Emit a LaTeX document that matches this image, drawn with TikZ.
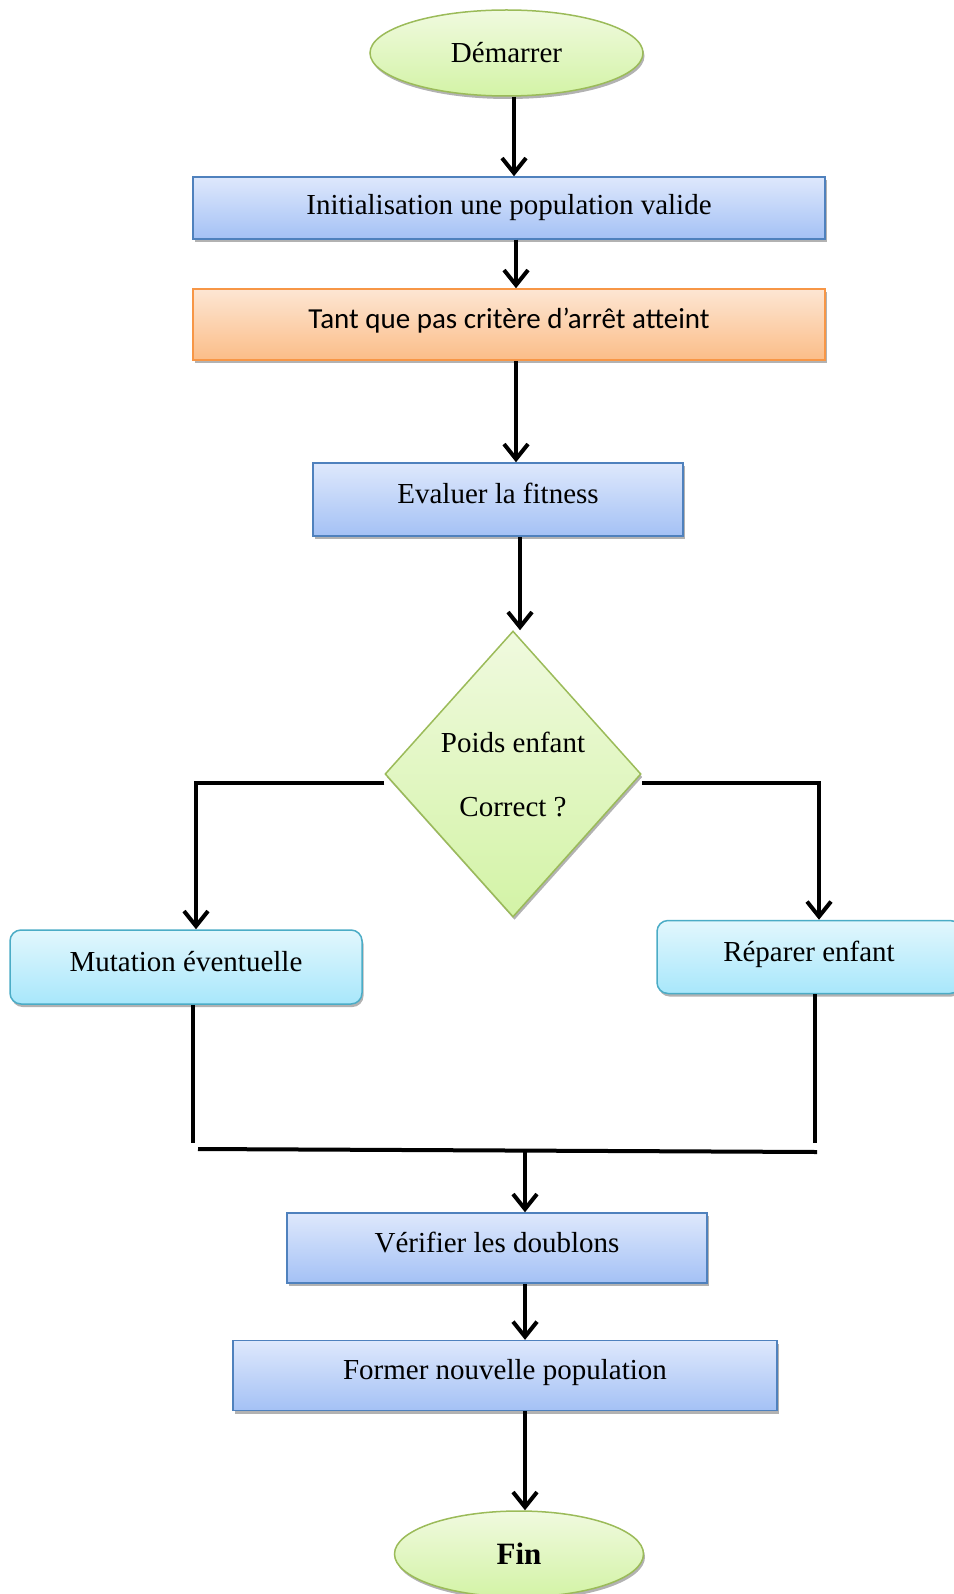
\documentclass[tikz,border=0pt]{standalone}
\usepackage{fontspec}
\setmainfont{Liberation Serif}
\newfontfamily\calfont{Carlito}
\usetikzlibrary{shapes.geometric,shadows,arrows.meta}
\definecolor{bluetop}{HTML}{DEE8FC}
\definecolor{bluebot}{HTML}{A4C1F5}
\definecolor{blueedge}{HTML}{4F81BD}
\definecolor{orgtop}{HTML}{FDE6D3}
\definecolor{orgbot}{HTML}{FBBD88}
\definecolor{orgedge}{HTML}{F79646}
\definecolor{grntop}{HTML}{F0FADF}
\definecolor{grnbot}{HTML}{D3F3A6}
\definecolor{grnedge}{HTML}{9BBB59}
\definecolor{cyntop}{HTML}{E2F7FD}
\definecolor{cynbot}{HTML}{A8E7FB}
\definecolor{cynedge}{HTML}{4BACC6}
\begin{document}
\begin{tikzpicture}[x=1pt,y=-1pt,
  mysh/.style={drop shadow={shadow xshift=1.5pt,shadow yshift=-3pt,opacity=0.3,fill=black}},
  txt/.style={font=\fontsize{29}{34}\selectfont, text height=13pt, text depth=5pt, inner sep=0pt},
  bluebox/.style={txt, mysh, rectangle, draw=blueedge, line width=1.5pt, top color=bluetop, bottom color=bluebot},
  orangebox/.style={txt, mysh, rectangle, draw=orgedge, line width=1.5pt, top color=orgtop, bottom color=orgbot},
  cyanbox/.style={txt, mysh, rectangle, rounded corners=11pt, draw=cynedge, line width=1.5pt, top color=cyntop, bottom color=cynbot},
  startend/.style={mysh, ellipse, inner sep=0pt, draw=grnedge, line width=1.5pt, top color=grntop, bottom color=grnbot, font=\fontsize{29}{34}\selectfont, minimum height=86pt},
  decision/.style={mysh, diamond, inner sep=0pt, draw=grnedge, line width=1.5pt, top color=grntop, bottom color=grnbot, font=\fontsize{29}{34}\selectfont, align=center, minimum width=256pt, minimum height=286pt},
  arr/.style={line width=4pt, -{Straight Barb[length=15pt,width=24pt]}},
  lin/.style={line width=4pt}
]
\useasboundingbox (0,0) rectangle (953,1594);

\node[startend, minimum width=273pt] (start) at (506.5,53) {Démarrer};
\node[bluebox, minimum width=632pt, minimum height=62pt, text height=16pt, text depth=2pt] (init) at (509,208) {Initialisation une population valide};
\node[orangebox, minimum width=632pt, minimum height=71pt, font=\calfont\fontsize{29}{34}\selectfont] (tant) at (509,324.5) {Tant que pas critère d’arrêt atteint};
\node[bluebox, minimum width=370pt, minimum height=73pt] (eval) at (498,499.5) {Evaluer la fitness};
\node[decision] (dec) at (513,774) {Poids enfant\\[30pt]Correct ?};
\node[cyanbox, minimum width=352pt, minimum height=74pt] (mut) at (186,967) {Mutation éventuelle};
\node[cyanbox, minimum width=304pt, minimum height=73pt] (rep) at (809,957) {Réparer enfant};
\node[bluebox, minimum width=420pt, minimum height=70pt] (ver) at (497,1248) {Vérifier les doublons};
\node[bluebox, minimum width=544pt, minimum height=70pt] (form) at (505,1375.6) {Former nouvelle population};
\node[startend, minimum width=249pt, font=\fontsize{31}{36}\selectfont\bfseries] (fin) at (519,1554) {Fin};

\coordinate (jl) at (193,1143);
\coordinate (jr) at (815,1143);
\coordinate (hl) at (198,1149);
\coordinate (hr) at (817,1152);
\coordinate (jm) at (525,1150);

\draw[arr] ([xshift=7.5pt]start.south) -- ([xshift=5pt]init.north);
\draw[arr] ([xshift=7pt]init.south) -- ([xshift=7pt]tant.north);
\draw[arr] ([xshift=7pt]tant.south) -- ([xshift=18pt]eval.north);
\draw[arr] ([xshift=22pt]eval.south) -- ([xshift=7pt]dec.north);
\draw[arr] ([yshift=-9pt]dec.west) -| ([xshift=10pt]mut.north);
\draw[arr] ([yshift=-9pt]dec.east) -| ([xshift=10pt]rep.north);
\draw[lin] (mut.south -| jl) -- (jl);
\draw[lin] (rep.south -| jr) -- (jr);
\draw[lin] (hl) -- (hr);
\draw[arr] (jm) -- (jm |- ver.north);
\draw[arr] ([xshift=28pt]ver.south) -- ([xshift=20pt]form.north);
\draw[arr] ([xshift=20pt]form.south) -- ([xshift=6pt]fin.north);
\end{tikzpicture}
\end{document}
